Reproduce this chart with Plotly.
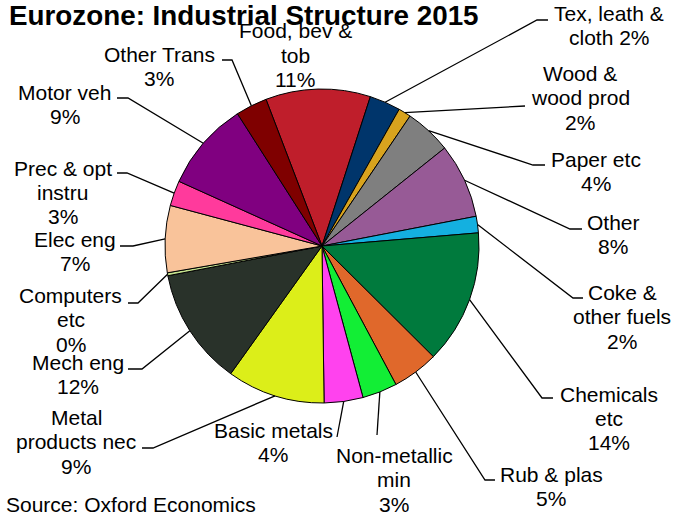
import math
import plotly.graph_objects as go

# ---------------- data ----------------
sectors = ["Food, bev & tob", "Tex, leath & cloth", "Wood & wood prod", "Paper etc",
           "Other", "Coke & other fuels", "Chemicals etc", "Rub & plas",
           "Non-metallic min", "Basic metals", "Metal products nec", "Mech eng",
           "Computers etc", "Elec eng", "Prec & opt instru", "Motor veh", "Other Trans"]
shares = [10.8, 3.2, 1.3, 4.8, 7.7, 1.7, 13.8, 4.75, 3.6, 4.0, 10.1, 12.1,
          0.3, 6.9, 2.6, 9.2, 3.25]
label_names = ["Food, bev &\ntob", "Tex, leath &\ncloth", "Wood &\nwood prod", "Paper etc",
               "Other", "Coke &\nother fuels", "Chemicals\netc", "Rub & plas",
               "Non-metallic\nmin", "Basic metals", "Metal\nproducts nec", "Mech eng",
               "Computers\netc", "Elec eng", "Prec & opt\ninstru", "Motor veh", "Other Trans"]
label_pct = ["11%", "2%", "2%", "4%", "8%", "2%", "14%", "5%", "3%", "4%", "9%",
             "12%", "0%", "7%", "3%", "9%", "3%"]
pct_inline = [False, True] + [False] * 15

colors = ["#BF1E2B", "#00356B", "#D8A31E", "#7F7F7F", "#975A96", "#14B0E0",
          "#007A3D", "#E0682B", "#12EE35", "#FF42EE", "#DCEE19", "#29322A",
          "#C4E28E", "#F9C39A", "#FF3A9C", "#800080", "#7F0000"]

title_text = "Eurozone: Industrial Structure 2015"
source_text = "Source: Oxford Economics"

# ---------------- layout (page pixels) ----------------
W, H = 673, 519
CX, CY, R = 322, 246, 157
START_ANGLE = -20.9
LINE_GAP = 24.3
FONT = "Liberation Sans, Arial, sans-serif"
FS = 21

label_pos = [(295, 31), (609, 13), (580, 73.5), (596, 159), (613, 222.5), (622, 292.5),
             (609, 394), (551, 474.5), (394, 455.5), (273, 430.5), (76, 417.5),
             (77.5, 362.5), (70.5, 295.5), (75, 239.5), (62.5, 168.3), (64.5, 92.5),
             (159, 54.5)]
leaders = [None, [(537, 20), (548, 20)], [(525, 106)], [(533, 165), (545, 165)],
           [(570, 229), (582, 229)], [(573, 298), (583, 298)], [(542, 398), (553, 398)],
           [(485, 480), (495, 480)], [(377, 435)], [(337, 437)], [(153, 448), (142, 448)],
           [(142, 369), (128, 369)], [(138, 303), (128, 303)], [(133, 246), (120, 246)],
           [(127, 173), (117, 173)], [(128, 98), (117, 98)], [(232, 60), (222, 60)]]


def px(x):
    return x / W


def py(y):
    return 1 - y / H


fig = go.Figure(go.Pie(
    labels=sectors, values=shares, sort=False, direction="clockwise",
    rotation=START_ANGLE, marker=dict(colors=colors, line=dict(color="black", width=1)),
    textinfo="none", hoverinfo="label+percent", showlegend=False,
    domain=dict(x=[px(CX - R), px(CX + R)], y=[py(CY + R), py(CY - R)]),
))

annotations = []
shapes = []
total = sum(shares)
cum = 0.0
for i, v in enumerate(shares):
    mid = START_ANGLE + (cum + v / 2) / total * 360
    cum += v
    a = math.radians(mid)
    ex, ey = CX + R * math.sin(a), CY - R * math.cos(a)
    if leaders[i]:
        pts = [(ex, ey)] + leaders[i]
        path = "M " + " L ".join(f"{px(x):.5f},{py(y):.5f}" for x, y in pts)
        shapes.append(dict(type="path", xref="paper", yref="paper", path=path,
                           line=dict(color="black", width=1.3)))
    lines = label_names[i].split("\n")
    if pct_inline[i]:
        lines[-1] = lines[-1] + " " + label_pct[i]
    else:
        lines.append(label_pct[i])
    lx, ly = label_pos[i]
    for k, t in enumerate(lines):
        annotations.append(dict(text=t, x=px(lx), y=py(ly + k * LINE_GAP), xref="paper",
                                yref="paper", xanchor="center", yanchor="middle",
                                showarrow=False, font=dict(family=FONT, size=FS, color="black")))

annotations.append(dict(text="<b>" + title_text + "</b>", x=px(7), y=py(15), xref="paper",
                        yref="paper", xanchor="left", yanchor="middle", showarrow=False,
                        font=dict(family=FONT, size=27.8, color="black")))
annotations.append(dict(text=source_text, x=px(4), y=py(504.5), xref="paper", yref="paper",
                        xanchor="left", yanchor="middle", showarrow=False,
                        font=dict(family=FONT, size=FS, color="black")))

fig.update_layout(width=W, height=H, margin=dict(l=0, r=0, t=0, b=0),
                  paper_bgcolor="white", plot_bgcolor="white",
                  annotations=annotations, shapes=shapes)

# remove the page's default body margin so the figure fills the window exactly
fig.write_html("out.html", config={"displayModeBar": False},
               post_script="document.body.style.margin='0px';")
